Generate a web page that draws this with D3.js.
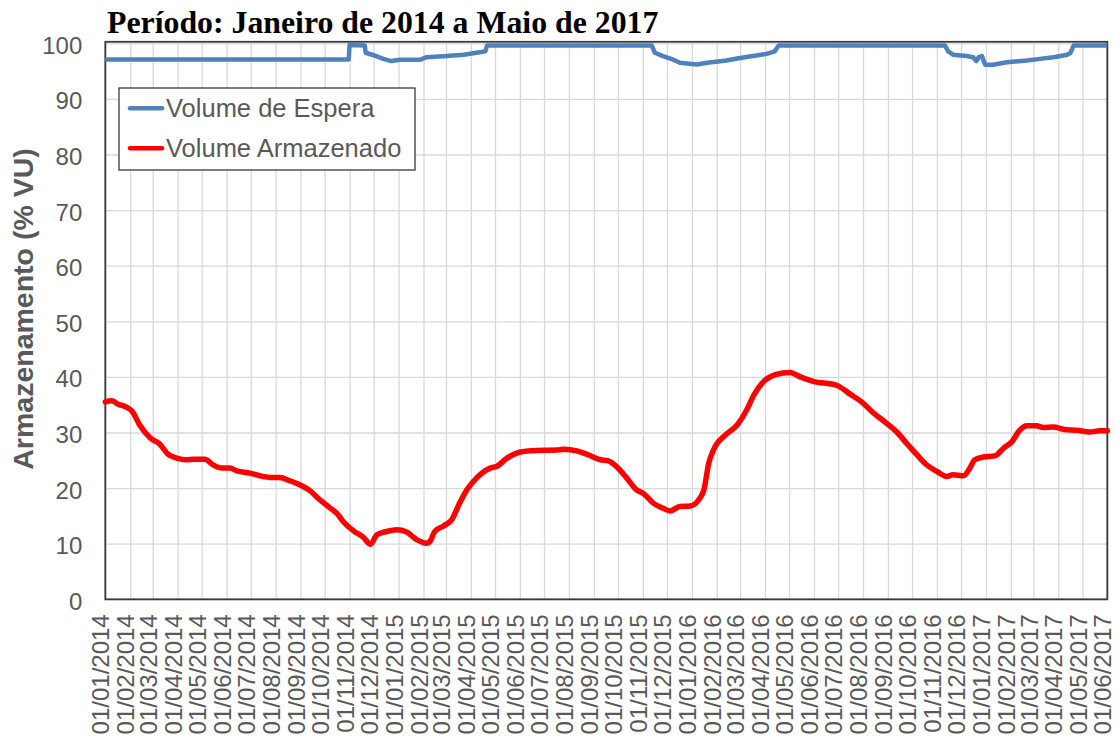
<!DOCTYPE html>
<html>
<head>
<meta charset="utf-8">
<script src="https://cdn.jsdelivr.net/npm/d3@7"></script>
<style>
  html, body { margin: 0; padding: 0; background: #fff; }
  svg { display: block; }
</style>
</head>
<body>
<svg id="chart" width="1119" height="745"></svg>
<script>
const titleText = "Período: Janeiro de 2014 a Maio de 2017";
const yTitle = "Armazenamento (% VU)";
const seriesNames = ["Volume de Espera", "Volume Armazenado"];
const yTicks = [0, 10, 20, 30, 40, 50, 60, 70, 80, 90, 100];
const xTickStart = "2014-01-01";
const xTickEnd = "2017-06-01";

const esperaDates = ["2014-01-01","2014-10-31","2014-11-01","2014-11-20","2014-11-21","2014-11-30","2014-12-13","2014-12-23","2015-01-03","2015-01-28","2015-02-05","2015-03-02","2015-03-23","2015-04-12","2015-04-19","2015-04-21","2015-11-12","2015-11-16","2015-11-26","2015-12-09","2015-12-17","2016-01-07","2016-01-20","2016-02-13","2016-03-01","2016-03-17","2016-04-03","2016-04-13","2016-04-18","2016-11-11","2016-11-15","2016-11-21","2016-12-08","2016-12-16","2016-12-20","2016-12-23","2016-12-27","2016-12-31","2017-01-10","2017-01-27","2017-02-21","2017-03-09","2017-03-26","2017-04-12","2017-04-16","2017-04-20","2017-06-01"];
const esperaValues = [97.1,97.1,99.7,99.6,98.3,97.9,97.2,96.8,97.05,97.05,97.5,97.7,97.95,98.4,98.55,99.6,99.6,98.3,97.7,97.05,96.5,96.2,96.5,96.9,97.35,97.7,98.1,98.55,99.6,99.6,98.55,97.95,97.7,97.5,96.8,97.5,97.7,96.15,96.15,96.6,96.9,97.2,97.5,97.95,98.25,99.6,99.6];

const armazDates = ["2014-01-01","2014-01-09","2014-01-17","2014-01-28","2014-02-03","2014-02-13","2014-02-26","2014-03-10","2014-03-20","2014-03-31","2014-04-12","2014-04-21","2014-05-05","2014-05-15","2014-05-26","2014-06-05","2014-06-14","2014-06-30","2014-07-13","2014-07-27","2014-08-06","2014-08-19","2014-08-31","2014-09-13","2014-09-25","2014-10-08","2014-10-16","2014-10-24","2014-11-06","2014-11-18","2014-11-27","2014-12-05","2014-12-17","2014-12-30","2015-01-11","2015-01-24","2015-02-05","2015-02-09","2015-02-15","2015-02-26","2015-03-08","2015-03-18","2015-03-27","2015-04-10","2015-04-25","2015-05-03","2015-05-16","2015-05-28","2015-06-14","2015-07-21","2015-07-25","2015-08-11","2015-08-23","2015-09-09","2015-09-19","2015-09-29","2015-10-12","2015-10-24","2015-11-02","2015-11-14","2015-11-26","2015-12-05","2015-12-17","2015-12-30","2016-01-11","2016-01-16","2016-01-22","2016-01-28","2016-02-13","2016-02-26","2016-03-09","2016-03-18","2016-04-01","2016-04-14","2016-05-02","2016-05-15","2016-05-31","2016-06-29","2016-07-16","2016-08-01","2016-08-14","2016-08-30","2016-09-12","2016-09-24","2016-10-07","2016-10-19","2016-11-01","2016-11-13","2016-11-21","2016-12-04","2016-12-12","2016-12-18","2016-12-29","2017-01-12","2017-01-23","2017-02-02","2017-02-12","2017-02-21","2017-03-05","2017-03-13","2017-03-26","2017-04-07","2017-04-24","2017-05-10","2017-05-23","2017-06-01"];
const armazValues = [35.5,35.7,35.1,34.5,33.9,31.3,29.0,27.9,26.1,25.4,25.1,25.2,25.2,24.2,23.6,23.6,23.1,22.7,22.2,21.9,21.9,21.3,20.6,19.5,17.9,16.4,15.5,14.0,12.3,11.2,9.9,11.6,12.2,12.5,12.1,10.7,10.1,10.4,12.2,13.2,14.3,17.3,19.7,22.1,23.6,23.9,25.4,26.3,26.7,26.9,27.0,26.7,26.1,25.1,24.9,23.9,21.8,19.7,19.0,17.3,16.4,15.9,16.7,16.8,18.2,19.7,24.5,26.9,29.7,31.3,34.0,36.7,39.4,40.4,40.8,40.0,39.2,38.5,36.9,35.3,33.5,31.7,30.1,28.1,26.0,24.2,23.0,22.1,22.4,22.2,23.6,25.1,25.6,25.8,27.2,28.3,30.4,31.2,31.2,30.9,31.0,30.6,30.4,30.1,30.3,30.3];

const parse = d3.utcParse("%Y-%m-%d");
const espera = esperaDates.map((d, i) => ({ date: parse(d), value: esperaValues[i] }));
const armaz = armazDates.map((d, i) => ({ date: parse(d), value: armazValues[i] }));

const svg = d3.select("#chart");
const margin = { left: 105.3, right: 1107.3, top: 43.3, bottom: 599.3 };
const W = margin.right - margin.left, H = margin.bottom - margin.top;

const x = d3.scaleUtc().domain([parse(xTickStart), parse(xTickEnd)]).range([margin.left, margin.right]);
const y = d3.scaleLinear().domain([0, 100]).range([margin.bottom, margin.top]);
const monthTicks = d3.utcMonth.range(parse(xTickStart), d3.utcDay.offset(parse(xTickEnd), 1));

const textColor = "#595959";
const gridColor = "#d9d9d9";

// grid
svg.append("g").attr("transform", `translate(0,${margin.bottom})`)
  .call(d3.axisBottom(x).tickValues(monthTicks).tickSize(-H).tickFormat(""))
  .call(g => g.select(".domain").remove())
  .call(g => g.selectAll("line").attr("stroke", gridColor).attr("stroke-width", 1.3));
svg.append("g").attr("transform", `translate(${margin.left},0)`)
  .call(d3.axisLeft(y).tickValues(yTicks).tickSize(-W).tickFormat(""))
  .call(g => g.select(".domain").remove())
  .call(g => g.selectAll("line").attr("stroke", gridColor).attr("stroke-width", 1.3));

// y axis labels
svg.append("g").attr("transform", `translate(${margin.left},0)`)
  .call(d3.axisLeft(y).tickValues(yTicks).tickSize(0).tickPadding(23))
  .call(g => g.select(".domain").remove())
  .call(g => g.selectAll("text").attr("fill", textColor)
      .style("font-family", "Arial, 'Liberation Sans', sans-serif").style("font-size", "24px").attr("dy", "0.42em"));

// x axis labels
const fmt = d3.utcFormat("%d/%m/%Y");
svg.append("g").attr("transform", `translate(0,${margin.bottom})`)
  .call(d3.axisBottom(x).tickValues(monthTicks).tickSize(0).tickFormat(fmt))
  .call(g => g.select(".domain").remove())
  .call(g => g.selectAll("text")
      .attr("fill", textColor)
      .style("font-family", "Arial, 'Liberation Sans', sans-serif").style("font-size", "24px")
      .attr("text-anchor", "end")
      .attr("transform", "rotate(-90)")
      .attr("x", -15).attr("y", -5).attr("dy", "0.36em"));

// plot border
svg.append("rect").attr("x", margin.left).attr("y", margin.top - 1.5).attr("width", W).attr("height", H + 1.5)
  .attr("fill", "none").attr("stroke", "#3a3a3a").attr("stroke-width", 1.8);

// lines
const lineLin = d3.line().x(d => x(d.date)).y(d => y(d.value));
const lineSmooth = d3.line().x(d => x(d.date)).y(d => y(d.value)).curve(d3.curveMonotoneX);
svg.append("path").datum(espera).attr("d", lineLin)
  .attr("fill", "none").attr("stroke", "#4f81bd").attr("stroke-width", 4.5).attr("stroke-linejoin", "round");
svg.append("path").datum(armaz).attr("d", lineSmooth)
  .attr("fill", "none").attr("stroke", "#ff0000").attr("stroke-width", 5.5).attr("stroke-linejoin", "round").attr("stroke-linecap", "round");

// title
svg.append("text").attr("x", 107).attr("y", 33).text(titleText)
  .style("font-family", "'Times New Roman', 'Liberation Serif', serif").style("font-weight", "bold")
  .style("font-size", "31.8px").attr("fill", "#000");

// y title
svg.append("text").attr("transform", "translate(33,309) rotate(-90)").attr("text-anchor", "middle")
  .text(yTitle).attr("fill", textColor)
  .style("font-family", "Arial, 'Liberation Sans', sans-serif").style("font-weight", "bold").style("font-size", "28.5px");

// legend
const lg = svg.append("g");
lg.append("rect").attr("x", 119).attr("y", 88).attr("width", 296).attr("height", 82)
  .attr("fill", "#fff").attr("stroke", "#3a3a3a").attr("stroke-width", 1.3);
const legendColors = ["#4f81bd", "#ff0000"];
seriesNames.forEach((name, i) => {
  const cy = 108.3 + i * 40;
  lg.append("line").attr("x1", 130).attr("x2", 162).attr("y1", cy).attr("y2", cy)
    .attr("stroke", legendColors[i]).attr("stroke-width", 4.5).attr("stroke-linecap", "round");
  lg.append("text").attr("x", 166).attr("y", cy + 9).text(name).attr("fill", textColor)
    .style("font-family", "Arial, 'Liberation Sans', sans-serif").style("font-size", "25.5px");
});
</script>
</body>
</html>
